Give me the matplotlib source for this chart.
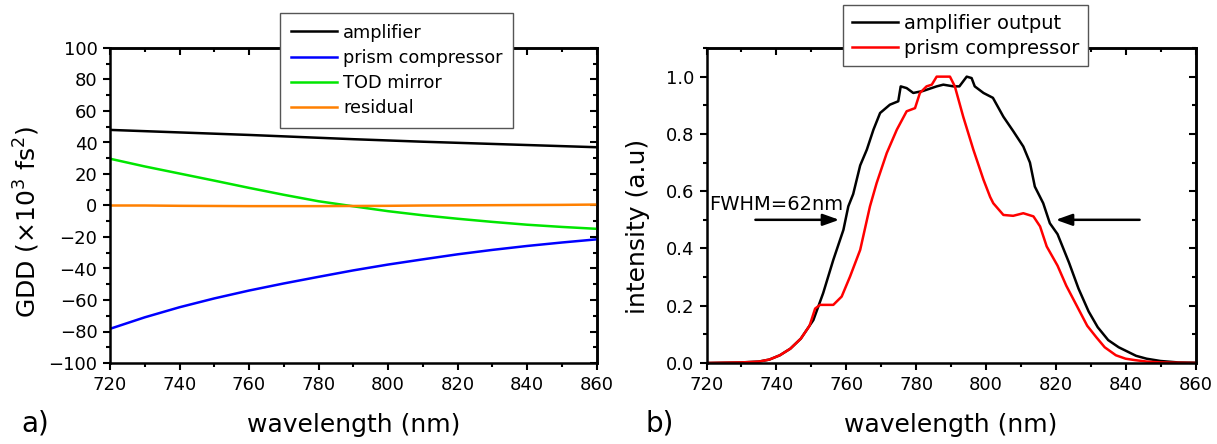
import matplotlib
matplotlib.use('Agg')
import matplotlib.pyplot as plt
from matplotlib.ticker import MultipleLocator, FormatStrFormatter

plt.rcParams['font.family'] = ['DejaVu Sans']
plt.rcParams['mathtext.default'] = 'regular'

# ---- panel a) GDD data (x10^3 fs^2) ----
gdd_wl = [720, 730, 740, 750, 760, 770, 780, 790, 800, 810, 820, 830, 840, 850, 860]
gdd_amplifier = [48.0, 47.2, 46.4, 45.6, 44.8, 43.9, 43.0, 42.1, 41.3, 40.5, 39.8, 39.1, 38.4, 37.7, 37.0]
gdd_prism = [-78.3, -71.0, -64.6, -59.0, -54.0, -49.5, -45.3, -41.2, -37.5, -34.2, -31.0, -28.2, -25.7, -23.5, -21.5]
gdd_tod = [29.7, 24.8, 20.3, 15.8, 11.2, 6.8, 2.7, -0.5, -3.6, -6.2, -8.4, -10.4, -12.2, -13.6, -14.8]
gdd_residual = [0.0, 0.0, -0.2, -0.3, -0.4, -0.4, -0.4, -0.3, -0.2, 0.0, 0.1, 0.2, 0.3, 0.4, 0.6]
gdd_labels = ['amplifier', 'prism compressor', 'TOD mirror', 'residual']
gdd_colors = ['#000000', '#0000ff', '#00e600', '#ff8000']

# ---- panel b) spectra ----
amp_wl = [720, 725, 730, 735, 738, 741, 744, 747, 750.6, 753.4, 756.3, 759.2, 760.6, 762, 764,
          765.9, 767.8, 769.7, 772.5, 774.9, 775.6, 777.3, 779.2, 782, 785.9, 787.8, 790.7, 792.4,
          794.5, 795.9, 796.8, 799.3, 802, 805, 807.8, 810.7, 812.6, 814, 816.4, 818.3, 820.5,
          823.8, 826.5, 829.4, 832, 835, 838, 840.5, 843, 846, 850, 855, 860]
amp_int = [0.0, 0.001, 0.002, 0.005, 0.012, 0.027, 0.05, 0.085, 0.15, 0.244, 0.36, 0.465, 0.547,
           0.59, 0.69, 0.745, 0.815, 0.873, 0.902, 0.914, 0.966, 0.96, 0.943, 0.95, 0.966, 0.972,
           0.966, 0.966, 1.0, 0.995, 0.966, 0.943, 0.926, 0.86, 0.81, 0.756, 0.70, 0.616, 0.558,
           0.488, 0.45, 0.35, 0.26, 0.18, 0.125, 0.08, 0.055, 0.04, 0.025, 0.015, 0.007, 0.002, 0.001]
prism_wl = [720, 725, 730, 735, 738, 741, 744, 747, 749.5, 751.1, 752.5, 754, 756.3, 758.7, 761.1,
            764, 766.8, 768.7, 771.6, 774.5, 777.3, 779.7, 781.1, 783, 784.5, 785.9, 789.7, 791.1,
            793.5, 796.4, 799.3, 801.2, 802.1, 805, 807.8, 810.7, 813.6, 815.5, 817.4, 820.5, 823,
            826, 829, 831.6, 834, 837.2, 840, 842.7, 846, 850, 860]
prism_int = [0.0, 0.001, 0.002, 0.005, 0.012, 0.027, 0.05, 0.085, 0.13, 0.19, 0.203, 0.203, 0.203,
             0.232, 0.302, 0.395, 0.547, 0.628, 0.733, 0.815, 0.879, 0.89, 0.943, 0.966, 0.972, 1.0,
             1.0, 0.966, 0.86, 0.745, 0.64, 0.58, 0.558, 0.517, 0.514, 0.523, 0.512, 0.477, 0.407,
             0.34, 0.27, 0.2, 0.13, 0.09, 0.055, 0.027, 0.015, 0.01, 0.005, 0.002, 0.0]
spec_labels = ['amplifier output', 'prism compressor']
spec_colors = ['#000000', '#ff0000']


def style_axes(ax, ymajor, yminor):
    ax.set_xlim(720, 860)
    ax.xaxis.set_major_locator(MultipleLocator(20))
    ax.xaxis.set_minor_locator(MultipleLocator(10))
    ax.yaxis.set_major_locator(MultipleLocator(ymajor))
    ax.yaxis.set_minor_locator(MultipleLocator(yminor))
    for s in ax.spines.values():
        s.set_linewidth(1.8)
    ax.tick_params(which='major', direction='out', length=5, width=1.5, labelsize=13, pad=4)
    ax.tick_params(which='minor', direction='out', length=3, width=1.5)
    # inward ticks on top and right
    top = ax.secondary_xaxis('top')
    top.xaxis.set_major_locator(MultipleLocator(20))
    top.xaxis.set_minor_locator(MultipleLocator(10))
    top.tick_params(which='major', direction='in', length=5, width=1.5, labeltop=False)
    top.tick_params(which='minor', direction='in', length=3, width=1.5)
    top.spines['top'].set_linewidth(1.8)
    right = ax.secondary_yaxis('right')
    right.yaxis.set_major_locator(MultipleLocator(ymajor))
    right.yaxis.set_minor_locator(MultipleLocator(yminor))
    right.tick_params(which='major', direction='in', length=5, width=1.5, labelright=False)
    right.tick_params(which='minor', direction='in', length=3, width=1.5)
    right.spines['right'].set_linewidth(1.8)


fig = plt.figure(figsize=(12.17, 4.44), dpi=100)
W, H = 1217.0, 444.0
ax1 = fig.add_axes([110 / W, 1 - 363 / H, 486.5 / W, 315 / H])
ax2 = fig.add_axes([706.5 / W, 1 - 363 / H, 489 / W, 315 / H])

# panel a)
series = [gdd_amplifier, gdd_prism, gdd_tod, gdd_residual]
handles = []
for vals, lab, col in zip(series, gdd_labels, gdd_colors):
    ln, = ax1.plot(gdd_wl, vals, color=col, lw=1.8, label=lab)
    handles.append(ln)
ax1.set_ylim(-100, 100)
style_axes(ax1, 20, 10)
ax1.set_xlabel('wavelength (nm)', fontsize=18)
ax1.xaxis.label.set_va('center')
ax1.xaxis.set_label_coords(0.5, -0.197)
ax1.set_ylabel('GDD (×10$^3$ fs$^2$)', fontsize=18)
ax1.yaxis.label.set_va('center')
ax1.yaxis.set_label_coords(-0.17, 0.448)
leg1 = fig.legend(handles, gdd_labels, loc='upper left', bbox_to_anchor=(280 / W, 1 - 13 / H),
                  fontsize=12.8, frameon=True, fancybox=False, edgecolor='#555555',
                  framealpha=1, handlelength=2.6, handletextpad=0.35, labelspacing=0.4,
                  borderpad=0.6, borderaxespad=0)
leg1.get_frame().set_linewidth(1.0)

# panel b)
h2 = []
for wl, vals, lab, col in zip([amp_wl, prism_wl], [amp_int, prism_int], spec_labels, spec_colors):
    ln, = ax2.plot(wl, vals, color=col, lw=1.8, label=lab)
    h2.append(ln)
ax2.set_ylim(0, 1.1)
style_axes(ax2, 0.2, 0.1)
ax2.yaxis.set_major_formatter(FormatStrFormatter('%.1f'))
ax2.set_xlabel('wavelength (nm)', fontsize=18)
ax2.xaxis.label.set_va('center')
ax2.xaxis.set_label_coords(0.5, -0.197)
ax2.set_ylabel('intensity (a.u)', fontsize=18)
ax2.yaxis.label.set_va('center')
ax2.yaxis.set_label_coords(-0.14, 0.435)
leg2 = fig.legend(h2, spec_labels, loc='upper left', bbox_to_anchor=(843 / W, 1 - 5 / H),
                  fontsize=14, frameon=True, fancybox=False, edgecolor='#555555',
                  framealpha=1, handlelength=2.4, handletextpad=0.3, labelspacing=0.3,
                  borderpad=0.45, borderaxespad=0)
leg2.get_frame().set_linewidth(1.0)

arrow = dict(arrowstyle='-|>,head_length=0.7,head_width=0.25', color='k', lw=1.8,
             mutation_scale=14, shrinkA=0, shrinkB=0)
ax2.annotate('', xy=(758, 0.5), xytext=(734, 0.5), arrowprops=arrow)
ax2.annotate('', xy=(820, 0.5), xytext=(844, 0.5), arrowprops=arrow)
ax2.text(720.7, 0.552, 'FWHM=62nm', fontsize=14, ha='left', va='center')

fig.text(35 / W, 1 - 423 / H, 'a)', fontsize=20, ha='center', va='center')
fig.text(660 / W, 1 - 423 / H, 'b)', fontsize=20, ha='center', va='center')

fig.savefig('out.png', dpi=100)
